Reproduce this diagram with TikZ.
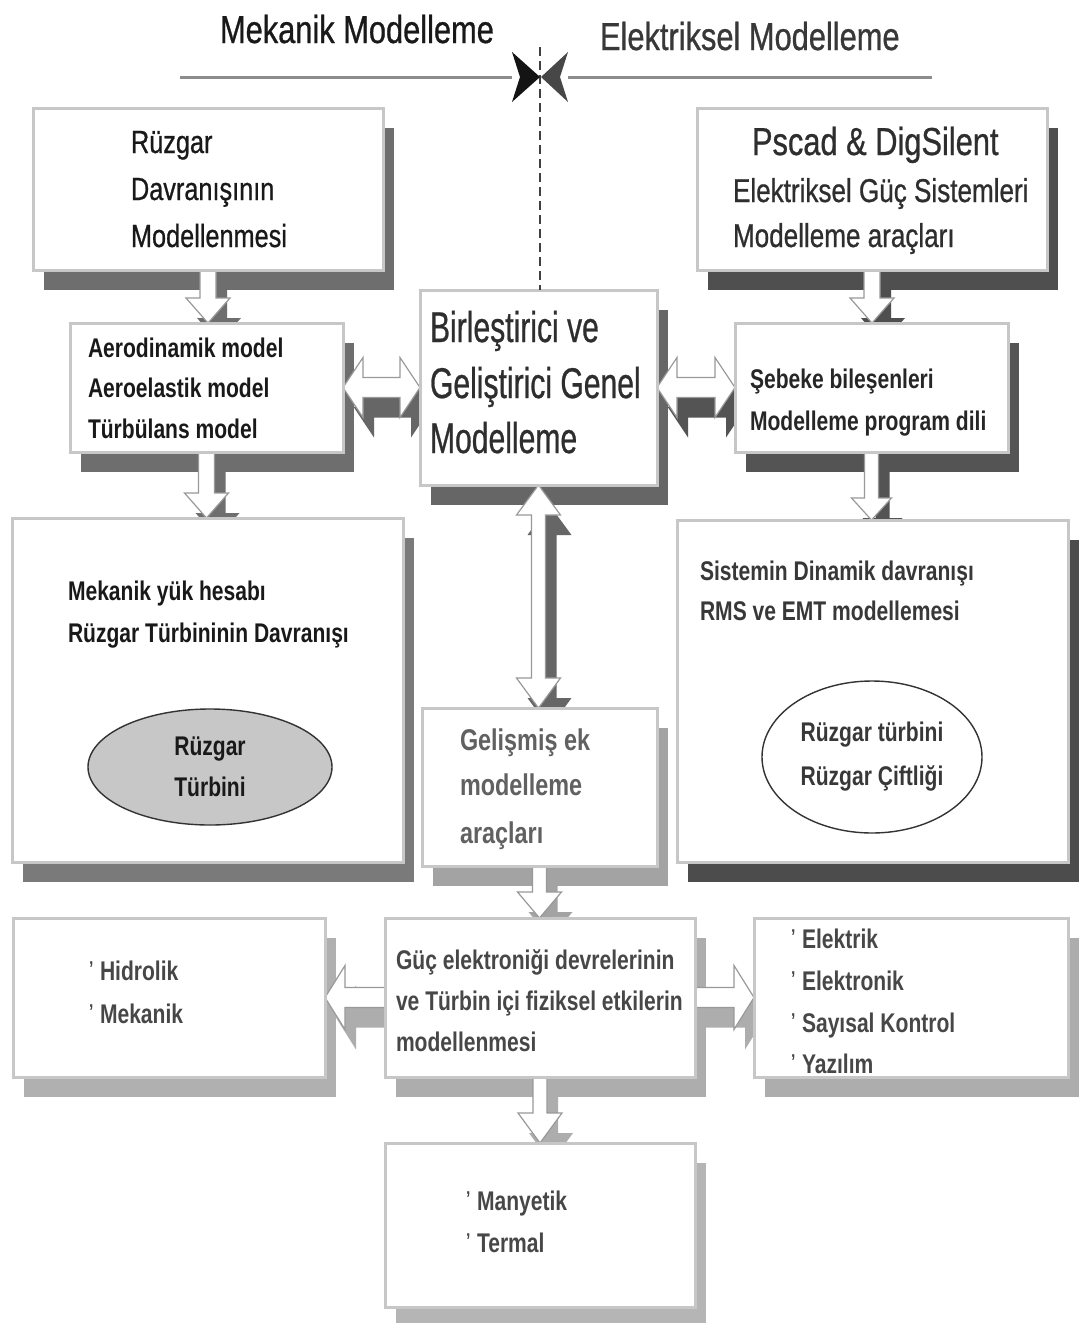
\documentclass[tikz,border=0pt]{standalone}
\usepackage{fontspec}
\newfontfamily\fntR{Liberation Sans}[FakeStretch=0.79,FakeBold=0.7]
\newfontfamily\fntN{Liberation Sans}[FakeStretch=0.70,FakeBold=0.6]
\newfontfamily\fntB{Liberation Sans}[FakeStretch=0.78]
\usetikzlibrary{calc,shapes.geometric}
\pgfdeclarelayer{shd}\pgfdeclarelayer{arr}\pgfsetlayers{shd,arr,main}
\newcommand\ftitle{\fntR\fontsize{39}{45}\selectfont}
\newcommand\fbig{\fntR\fontsize{32}{47}\selectfont}
\newcommand\fps{\fntR\fontsize{33}{45}\selectfont}
\newcommand\fbirl{\fntN\fontsize{43}{55}\selectfont}
\newcommand\fbold{\fntB\bfseries\fontsize{27}{41}\selectfont}
\newcommand\fgel{\fntB\bfseries\fontsize{30}{46}\selectfont}
\newcommand\bul{\makebox[11pt][l]{\raisebox{5pt}{\fontsize{20}{20}\selectfont ’}}}
% box with drop shadow
\newcommand\mkbox[6]{%
  \pgfmathsetmacro\bw{#4-#2}\pgfmathsetmacro\bh{#5-#3}%
  \node[box, minimum width=\bw pt, minimum height=\bh pt] (#1) at ({(#2+#4)/2},{(#3+#5)/2}) {};
  \begin{pgfonlayer}{shd}\fill[#6] ($(#1.north west)+(11,20)$) rectangle ($(#1.south east)+(11,20)$);\end{pgfonlayer}}
% polygons of block arrows
\newcommand\dnpoly[6]{% style, tail, tip, shaft half, head half, head length
  \path[#1] ($(#2)+(-#4,0)$) -- ($(#3)+(-#4,-#6)$) -- ($(#3)+(-#5,-#6)$) -- (#3) -- ($(#3)+(#5,-#6)$) -- ($(#3)+(#4,-#6)$) -- ($(#2)+(#4,0)$) -- cycle;}
\newcommand\hdpoly[6]{% style, left tip, right tip, shaft half, head half, head length
  \path[#1] (#2) -- ($(#2)+(#6,-#5)$) -- ($(#2)+(#6,-#4)$) -- ($(#3)+(-#6,-#4)$) -- ($(#3)+(-#6,-#5)$) -- (#3) -- ($(#3)+(-#6,#5)$) -- ($(#3)+(-#6,#4)$) -- ($(#2)+(#6,#4)$) -- ($(#2)+(#6,#5)$) -- cycle;}
\newcommand\vdpoly[6]{% style, top tip, bottom tip, shaft half, head half, head length
  \path[#1] (#2) -- ($(#2)+(-#5,#6)$) -- ($(#2)+(-#4,#6)$) -- ($(#3)+(-#4,-#6)$) -- ($(#3)+(-#5,-#6)$) -- (#3) -- ($(#3)+(#5,-#6)$) -- ($(#3)+(#4,-#6)$) -- ($(#2)+(#4,#6)$) -- ($(#2)+(#5,#6)$) -- cycle;}
\newcommand\hspoly[7]{% style, tail, tip, shaft half, head half, head length, sign
  \path[#1] ($(#2)+(0,-#4)$) -- ($(#3)+({(-1)*(#7)*(#6)},-#4)$) -- ($(#3)+({(-1)*(#7)*(#6)},-#5)$) -- (#3) -- ($(#3)+({(-1)*(#7)*(#6)},#5)$) -- ($(#3)+({(-1)*(#7)*(#6)},#4)$) -- ($(#2)+(0,#4)$) -- cycle;}
% shadowed arrows
\newcommand\DN[6]{%
  \coordinate (a2) at ($(#1)+(11,20)$); \coordinate (b2) at ($(#2)+(11,20)$);
  \begin{pgfonlayer}{shd}\dnpoly{fill=#6}{a2}{b2}{#3}{#4}{#5}\end{pgfonlayer}
  \begin{pgfonlayer}{arr}\dnpoly{arrw}{#1}{#2}{#3}{#4}{#5}\end{pgfonlayer}}
\newcommand\HD[6]{%
  \coordinate (a2) at ($(#1)+(11,20)$); \coordinate (b2) at ($(#2)+(11,20)$);
  \begin{pgfonlayer}{shd}\hdpoly{fill=#6}{a2}{b2}{#3}{#4}{#5}\end{pgfonlayer}
  \begin{pgfonlayer}{arr}\hdpoly{arrw}{#1}{#2}{#3}{#4}{#5}\end{pgfonlayer}}
\newcommand\VD[6]{%
  \coordinate (a2) at ($(#1)+(11,20)$); \coordinate (b2) at ($(#2)+(11,20)$);
  \begin{pgfonlayer}{shd}\vdpoly{fill=#6}{a2}{b2}{#3}{#4}{#5}\end{pgfonlayer}
  \begin{pgfonlayer}{arr}\vdpoly{arrw}{#1}{#2}{#3}{#4}{#5}\end{pgfonlayer}}
\newcommand\HS[7]{%
  \coordinate (a2) at ($(#1)+(11,20)$); \coordinate (b2) at ($(#2)+(11,20)$);
  \begin{pgfonlayer}{shd}\hspoly{fill=#7}{a2}{b2}{#3}{#4}{#5}{#6}\end{pgfonlayer}
  \begin{pgfonlayer}{arr}\hspoly{arrw}{#1}{#2}{#3}{#4}{#5}{#6}\end{pgfonlayer}}
\begin{document}
\begin{tikzpicture}[x=1pt,y=-1pt,
  box/.style={draw=black!22, line width=3pt, fill=white, inner sep=0pt, outer sep=0pt},
  txt/.style={anchor=base west, inner sep=0pt, outer sep=0pt},
  arrw/.style={fill=white, draw=black!40, line width=1.2pt},
  hline/.style={draw=black!45, line width=3pt},
  dashln/.style={draw=black!75, line width=1.2pt, dash pattern=on 9pt off 5pt},
  ell/.style={ellipse, draw=black!80, line width=1.4pt, inner sep=0pt, align=center}]
\begin{pgfonlayer}{shd}\fill[white] (0,0) rectangle (1080,1323);\end{pgfonlayer}
\useasboundingbox (0,0) rectangle (1080,1323);

% boxes
\mkbox{rz}{33}{108}{383}{270}{black!57}
\mkbox{aero}{70}{323}{343}{452}{black!57}
\mkbox{big}{12}{518}{403}{862}{black!52}
\mkbox{birl}{420}{290}{657}{485}{black!60}
\mkbox{pscad}{697}{108}{1047}{270}{black!69}
\mkbox{seb}{735}{323}{1008}{452}{black!67}
\mkbox{sis}{677}{520}{1068}{862}{black!70}
\mkbox{gel}{422}{708}{657}{866}{black!36}
\mkbox{guc}{385}{918}{695}{1077}{black!32}
\mkbox{hid}{13}{918}{325}{1077}{black!31}
\mkbox{elk}{754}{918}{1068}{1077}{black!32}
\mkbox{man}{385}{1143}{695}{1307}{black!29}

% header
\node[txt, font=\ftitle, text=black!90] (tmek) at (220,43) {Mekanik Modelleme};
\node[txt, font=\ftitle, text=black!78] (telk) at (600,50) {Elektriksel Modelleme};
\coordinate (dt) at (540,47);
\draw[dashln] (dt) -- (dt |- birl.north);
\coordinate (l1) at (180,77); \coordinate (l2) at (512,77);
\coordinate (r1) at (568,77); \coordinate (r2) at (932,77);
\draw[hline] (l1) -- (l2);
\draw[hline] (r1) -- (r2);
\fill[black!92] (512,52) -- (540,77) -- (512,102) -- (520,77) -- cycle;
\fill[black!72] (568,52) -- (541,77) -- (568,102) -- (560,77) -- cycle;

% texts
\node[txt, font=\fbig, text=black!90] (rz1) at (131,153) {Rüzgar};
\node[txt, font=\fbig, text=black!90] (rz2) at (131,200) {Davranışının};
\node[txt, font=\fbig, text=black!90] (rz3) at (131,247) {Modellenmesi};

\node[txt, font=\fbold, text=black!90] (ae1) at (88,357) {Aerodinamik model};
\node[txt, font=\fbold, text=black!90] (ae2) at (88,397) {Aeroelastik model};
\node[txt, font=\fbold, text=black!90] (ae3) at (88,438) {Türbülans model};

\node[txt, font=\fbold, text=black!90] (bg1) at (68,600) {Mekanik yük hesabı};
\node[txt, font=\fbold, text=black!90] (bg2) at (68,642) {Rüzgar Türbininin Davranışı};
\node[ell, fill=black!22, minimum width=244pt, minimum height=116pt, font=\fbold, text=black!90] (el1) at (210,767) {Rüzgar\\Türbini};

\node[txt, font=\fbirl, text=black!82] (bi1) at (430,342) {Birleştirici ve};
\node[txt, font=\fbirl, text=black!82] (bi2) at (430,398) {Geliştirici Genel};
\node[txt, font=\fbirl, text=black!82] (bi3) at (430,453) {Modelleme};

\node[txt, font=\ftitle, text=black!82] (ps1) at (752,155) {Pscad \& DigSilent};
\node[txt, font=\fps, text=black!82] (ps2) at (733,202) {Elektriksel Güç Sistemleri};
\node[txt, font=\fps, text=black!82] (ps3) at (733,247) {Modelleme araçları};

\node[txt, font=\fbold, text=black!85] (sb1) at (750,388) {Şebeke bileşenleri};
\node[txt, font=\fbold, text=black!85] (sb2) at (750,430) {Modelleme program dili};

\node[txt, font=\fbold, text=black!78] (si1) at (700,580) {Sistemin Dinamik davranışı};
\node[txt, font=\fbold, text=black!78] (si2) at (700,620) {RMS ve EMT modellemesi};
\node[ell, fill=white, minimum width=220pt, minimum height=152pt, font=\fbold, text=black!78] (el2) at (872,757) {Rüzgar türbini\\[3pt]Rüzgar Çiftliği};

\node[txt, font=\fgel, text=black!62] (ge1) at (460,750) {Gelişmiş ek};
\node[txt, font=\fgel, text=black!62] (ge2) at (460,795) {modelleme};
\node[txt, font=\fgel, text=black!62] (ge3) at (460,843) {araçları};

\node[txt, font=\fbold, text=black!72] (gu1) at (396,969) {Güç elektroniği devrelerinin};
\node[txt, font=\fbold, text=black!72] (gu2) at (396,1010) {ve Türbin içi fiziksel etkilerin};
\node[txt, font=\fbold, text=black!72] (gu3) at (396,1051) {modellenmesi};

\node[txt, font=\fbold, text=black!72] (hi1) at (89,980) {\bul Hidrolik};
\node[txt, font=\fbold, text=black!72] (hi2) at (89,1023) {\bul Mekanik};

\node[txt, font=\fbold, text=black!72] (ek1) at (791,948) {\bul Elektrik};
\node[txt, font=\fbold, text=black!72] (ek2) at (791,990) {\bul Elektronik};
\node[txt, font=\fbold, text=black!72] (ek3) at (791,1032) {\bul Sayısal Kontrol};
\node[txt, font=\fbold, text=black!72] (ek4) at (791,1073) {\bul Yazılım};

\node[txt, font=\fbold, text=black!72] (ma1) at (466,1210) {\bul Manyetik};
\node[txt, font=\fbold, text=black!72] (ma2) at (466,1252) {\bul Termal};

% connectors (block arrows)
\coordinate (p) at (rz.south); \coordinate (q) at (rz.south |- aero.north);
\DN{p}{q}{8}{22}{25}{black!57}
\coordinate (p) at (aero.south); \coordinate (q) at (aero.south |- big.north);
\DN{p}{q}{8}{22}{25}{black!57}
\coordinate (p) at (pscad.south); \coordinate (q) at (pscad.south |- seb.north);
\DN{p}{q}{8}{22}{25}{black!69}
\coordinate (p) at (seb.south); \coordinate (q) at (seb.south |- sis.north);
\DN{p}{q}{7}{20}{22}{black!67}
\coordinate (p) at (gel.south); \coordinate (q) at (gel.south |- guc.north);
\DN{p}{q}{7}{22}{26}{black!36}
\coordinate (p) at (guc.south); \coordinate (q) at (guc.south |- man.north);
\DN{p}{q}{7}{22}{30}{black!32}
\coordinate (p) at (aero.east); \coordinate (q) at (aero.east -| birl.west);
\HD{p}{q}{10}{30}{20}{black!60}
\coordinate (p) at (birl.east); \coordinate (q) at (birl.east -| seb.west);
\HD{p}{q}{10}{30}{20}{black!67}
\coordinate (p) at (birl.south); \coordinate (q) at (birl.south |- gel.north);
\VD{p}{q}{7}{22}{30}{black!60}
\coordinate (p) at (guc.west); \coordinate (q) at (guc.west -| hid.east);
\HS{p}{q}{10}{32}{20}{-1}{black!32}
\coordinate (p) at (guc.east); \coordinate (q) at (guc.east -| elk.west);
\HS{p}{q}{10}{32}{20}{1}{black!32}
\end{tikzpicture}
\end{document}
